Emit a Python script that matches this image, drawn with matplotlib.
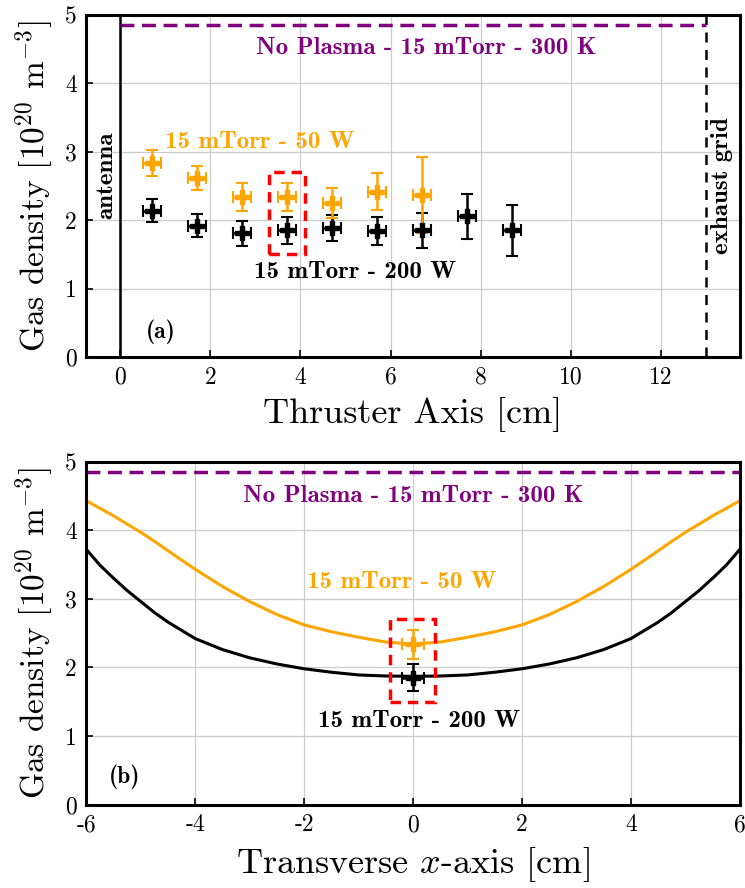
import matplotlib
matplotlib.use('Agg')
import matplotlib.pyplot as plt
from matplotlib.patches import Rectangle

# === Data ===
# (a) axial profile
x_50w = [0.7, 1.7, 2.7, 3.7, 4.7, 5.7, 6.7]
n_50w = [2.84, 2.62, 2.34, 2.34, 2.25, 2.42, 2.37]
err_50w = [0.19, 0.18, 0.20, 0.21, 0.22, 0.27, 0.55]

x_200w = [0.7, 1.7, 2.7, 3.7, 4.7, 5.7, 6.7, 7.7, 8.7]
n_200w = [2.14, 1.92, 1.81, 1.85, 1.89, 1.84, 1.85, 2.06, 1.85]
err_200w = [0.17, 0.17, 0.18, 0.20, 0.19, 0.20, 0.25, 0.33, 0.37]
xerr_axial = 0.2

n_no_plasma = 4.85
antenna_pos = 0.0
grid_pos = 13.0

# (b) transverse profile
x_trans = [-6.0, -5.75, -5.5, -5.25, -5.0, -4.75, -4.5, -4.0, -3.5, -3.0, -2.5, -2.0, -1.5,
           -1.0, -0.5, 0.0, 0.5, 1.0, 1.5, 2.0, 2.5, 3.0, 3.5, 4.0, 4.5, 4.75, 5.0, 5.25,
           5.5, 5.75, 6.0]
n_trans_50w = [4.43, 4.32, 4.21, 4.09, 3.97, 3.84, 3.70, 3.43, 3.18, 2.96, 2.77, 2.62, 2.52,
               2.44, 2.37, 2.34, 2.37, 2.44, 2.52, 2.62, 2.77, 2.96, 3.18, 3.43, 3.70, 3.84,
               3.97, 4.09, 4.21, 4.32, 4.43]
n_trans_200w = [3.72, 3.49, 3.30, 3.12, 2.96, 2.80, 2.66, 2.42, 2.26, 2.14, 2.05, 1.98, 1.93,
                1.89, 1.875, 1.87, 1.875, 1.89, 1.93, 1.98, 2.05, 2.14, 2.26, 2.42, 2.66, 2.80,
                2.96, 3.12, 3.30, 3.49, 3.72]
x_center = [0.0]
n_center_50w = [2.34]
err_center_50w = [0.21]
n_center_200w = [1.85]
err_center_200w = [0.20]

xticks_a = [0, 2, 4, 6, 8, 10, 12]
xticks_b = [-6, -4, -2, 0, 2, 4, 6]
xticklabels_b = ['-6', '-4', '-2', '0', '2', '4', '6']
yticks = [0, 1, 2, 3, 4, 5]

ORANGE = '#ffa500'
PURPLE = '#800080'

plt.rcParams['font.family'] = 'serif'
plt.rcParams['font.serif'] = ['cmr10']
plt.rcParams['mathtext.fontset'] = 'cm'
plt.rcParams['axes.unicode_minus'] = False

BOLD = 'cmb10'
LABEL_FS = 18

fig = plt.figure(figsize=(7.45, 8.88), dpi=100)
ax1 = fig.add_axes([0.116, 0.598, 0.877, 0.385])
ax2 = fig.add_axes([0.116, 0.094, 0.877, 0.386])


def style_axes(ax):
    for s in ax.spines.values():
        s.set_linewidth(2.2)
    ax.grid(True, color='#cccccc', linewidth=0.9)
    ax.set_axisbelow(True)
    ax.tick_params(direction='in', length=5, width=1.2, labelsize=17, pad=7)
    ax.set_ylim(0, 5)
    ax.set_yticks(yticks)
    ax.set_ylabel(r'Gas density [$10^{20}$ m$^{-3}$]', fontsize=24, labelpad=6)


def draw_points(ax, x, n, err, color):
    ax.errorbar(x, n, yerr=err, xerr=xerr_axial, fmt='P', color=color, markersize=10,
                elinewidth=1.8, capsize=4, capthick=1.5, zorder=3)


# --- (a) ---
style_axes(ax1)
ax1.set_xlim(-0.75, 13.75)
ax1.set_xticks(xticks_a)
ax1.axvline(antenna_pos, color='black', linewidth=1.8)
ax1.axvline(grid_pos, color='black', linewidth=1.8, linestyle=(0, (4, 3)))
ax1.plot([antenna_pos, grid_pos], [n_no_plasma, n_no_plasma], color=PURPLE,
         linewidth=2.5, linestyle=(0, (4, 2.2)))
draw_points(ax1, x_200w, n_200w, err_200w, 'black')
draw_points(ax1, x_50w, n_50w, err_50w, ORANGE)
ax1.add_patch(Rectangle((3.3, 1.5), 0.8, 1.2, fill=False, edgecolor='red',
                        linewidth=2.5, linestyle=(0, (3, 2)), zorder=4))
ax1.text(6.8, 4.52, 'No Plasma - 15 mTorr - 300 K', color=PURPLE, family=BOLD,
         fontsize=LABEL_FS, ha='center', va='center')
ax1.text(3.1, 3.15, '15 mTorr - 50 W', color=ORANGE, family=BOLD, fontsize=LABEL_FS,
         ha='center', va='center')
ax1.text(5.2, 1.25, '15 mTorr - 200 W', color='black', family=BOLD, fontsize=LABEL_FS,
         ha='center', va='center')
ax1.text(-0.3, 2.65, 'antenna', rotation=90, family=BOLD, fontsize=LABEL_FS,
         ha='center', va='center')
ax1.text(13.36, 2.5, 'exhaust grid', rotation=90, family=BOLD, fontsize=LABEL_FS,
         ha='center', va='center')
ax1.text(0.9, 0.37, '(a)', family=BOLD, fontsize=17, ha='center', va='center')
ax1.set_xlabel('Thruster Axis [cm]', fontsize=26, labelpad=6)

# --- (b) ---
style_axes(ax2)
ax2.set_xlim(-6, 6)
ax2.set_xticks(xticks_b, xticklabels_b)
ax2.axhline(n_no_plasma, color=PURPLE, linewidth=2.5, linestyle=(0, (4, 2.2)))
ax2.plot(x_trans, n_trans_200w, color='black', linewidth=2.2)
ax2.plot(x_trans, n_trans_50w, color=ORANGE, linewidth=2.2)
ax2.errorbar(x_center, n_center_200w, yerr=err_center_200w, xerr=xerr_axial, fmt='P',
             color='black', markersize=10, elinewidth=1.8, capsize=4, capthick=1.5, zorder=3)
ax2.errorbar(x_center, n_center_50w, yerr=err_center_50w, xerr=xerr_axial, fmt='P',
             color=ORANGE, markersize=10, elinewidth=1.8, capsize=4, capthick=1.5, zorder=3)
ax2.add_patch(Rectangle((-0.42, 1.5), 0.82, 1.2, fill=False, edgecolor='red',
                        linewidth=2.5, linestyle=(0, (3, 2)), zorder=4))
ax2.text(0.0, 4.5, 'No Plasma - 15 mTorr - 300 K', color=PURPLE, family=BOLD,
         fontsize=LABEL_FS, ha='center', va='center')
ax2.text(-0.2, 3.24, '15 mTorr - 50 W', color=ORANGE, family=BOLD, fontsize=LABEL_FS,
         ha='center', va='center')
ax2.text(0.1, 1.22, '15 mTorr - 200 W', color='black', family=BOLD, fontsize=LABEL_FS,
         ha='center', va='center')
ax2.text(-5.3, 0.41, '(b)', family=BOLD, fontsize=17, ha='center', va='center')
ax2.set_xlabel(r'Transverse $x$-axis [cm]', fontsize=26, labelpad=6)

fig.savefig('out.png', dpi=100)
